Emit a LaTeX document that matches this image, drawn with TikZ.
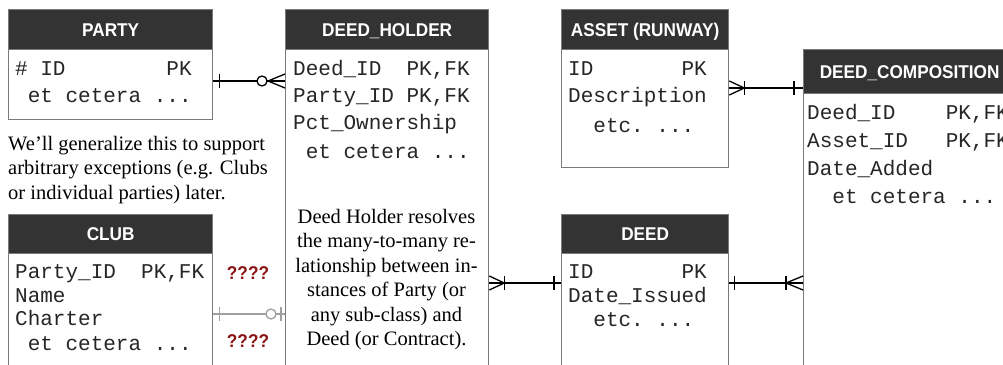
\documentclass[tikz,border=0pt]{standalone}
\usepackage{fontspec}
\setmainfont{Liberation Serif}
\setsansfont{Liberation Sans}
\setmonofont{Liberation Mono}
\newfontfamily\hdrfont[FakeStretch=0.93]{Liberation Sans}
\usetikzlibrary{calc}
\definecolor{hdrfill}{HTML}{333333}
\definecolor{boxline}{HTML}{7A7A7A}
\definecolor{qred}{HTML}{8B1414}
\definecolor{faint}{HTML}{A0A0A0}
\definecolor{monotext}{HTML}{262626}
\newcommand\csp[1]{\kern\dimexpr0.6em*#1\relax}
\begin{document}
\begin{tikzpicture}[x=1pt,y=-1pt,
  entity/.style={draw=boxline, fill=white, line width=1.3pt, anchor=north west, inner sep=0pt},
  hdr/.style={draw=boxline, fill=hdrfill, line width=1.3pt, anchor=north west, inner sep=0pt,
    text=white, font=\fontsize{18.5}{18.5}\hdrfont\bfseries, text height=13pt, text depth=0pt},
  row/.style={anchor=base west, inner sep=0pt, text=monotext, font=\fontsize{21}{21}\ttfamily},
  note/.style={inner sep=0pt, font=\fontsize{20.5}{24.5}\rmfamily},
  qq/.style={anchor=base, inner sep=0pt, text=qred, font=\fontsize{18.5}{18.5}\hdrfont\bfseries},
  rel/.style={line width=1.3pt, black},
  relg/.style={line width=1.3pt, faint}
]
\useasboundingbox (0,0) rectangle (1003,364);
\clip (0,0) rectangle (1003,364);

% ---------- PARTY ----------
\node[entity, minimum width=204pt, minimum height=110pt] (party) at (8,9) {};
\node[hdr, minimum width=204pt, minimum height=40pt] (partyH) at (8,9) {PARTY};
\node[row] (pr1) at (15,75) {\#\csp{1}ID\csp{8}PK};
\node[row] (pr2) at (15,102) {\csp{1}et cetera ...};

\node[note, anchor=north west, align=left] (pnote) at (8,136)
  {We’ll generalize this to support\\arbitrary exceptions (e.g. Clubs\\or individual parties) later.};

% ---------- CLUB ----------
\node[entity, minimum width=204pt, minimum height=170pt] (club) at (8,214) {};
\node[hdr, minimum width=204pt, minimum height=39pt] (clubH) at (8,214) {CLUB};
\node[row] (cr1) at (15,278) {Party\_ID\csp{2}PK,FK};
\node[row] (cr2) at (15,302) {Name};
\node[row] (cr3) at (15,325) {Charter};
\node[row] (cr4) at (15,350) {\csp{1}et cetera ...};

\node[qq] (q1) at (248,279) {????};
\node[qq] (q2) at (248,347) {????};

% ---------- DEED_HOLDER ----------
\node[entity, minimum width=203pt, minimum height=380pt] (dh) at (285,9) {};
\node[hdr, minimum width=203pt, minimum height=40pt] (dhH) at (285,9) {DEED\_HOLDER};
\node[row] (dr1) at (293,75) {Deed\_ID\csp{2}PK,FK};
\node[row] (dr2) at (293,102) {Party\_ID\csp{1}PK,FK};
\node[row] (dr3) at (293,129) {Pct\_Ownership};
\node[row] (dr4) at (293,158) {\csp{1}et cetera ...};

\node[note, anchor=north, align=center] (dnote) at (386.5,209)
  {Deed Holder resolves\\the many-to-many re-\\lationship between in-\\stances of Party (or\\any sub-class) and\\Deed (or Contract).};

% ---------- ASSET ----------
\node[entity, minimum width=167pt, minimum height=158pt] (asset) at (561,9) {};
\node[hdr, minimum width=167pt, minimum height=40pt] (assetH) at (561,9) {ASSET (RUNWAY)};
\node[row] (ar1) at (568,75) {ID\csp{7}PK};
\node[row] (ar2) at (568,102) {Description};
\node[row] (ar3) at (568,132) {\csp{2}etc. ...};

% ---------- DEED ----------
\node[entity, minimum width=167pt, minimum height=170pt] (deed) at (561,214) {};
\node[hdr, minimum width=167pt, minimum height=39pt] (deedH) at (561,214) {DEED};
\node[row] (er1) at (568,278) {ID\csp{7}PK};
\node[row] (er2) at (568,302) {Date\_Issued};
\node[row] (er3) at (568,326) {\csp{2}etc. ...};

% ---------- DEED_COMPOSITION ----------
\node[entity, minimum width=212pt, minimum height=330pt] (dc) at (803,49) {};
\node[hdr, minimum width=212pt, minimum height=44pt] (dcH) at (803,49) {DEED\_COMPOSITION};
\node[row] (cr1x) at (807,119) {Deed\_ID\csp{4}PK,FK};
\node[row] (cr2x) at (807,147) {Asset\_ID\csp{3}PK,FK};
\node[row] (cr3x) at (807,175) {Date\_Added};
\node[row] (cr4x) at (807,203) {\csp{2}et cetera ...};

% ---------- connectors ----------
\coordinate (yPD) at (0,81);
\coordinate (yCD) at (0,314);
\coordinate (yDD) at (0,283);
\coordinate (yAC) at (0,88);

% Party -- Deed_Holder : one and only one -- zero or many
\draw[rel] (party.east |- yPD) coordinate (a1) -- (dh.west |- yPD) coordinate (a2);
\draw[rel] ($(a1)+(6,-7)$) -- ++(0,14);
\draw[rel, fill=white] ($(a2)+(-23,0)$) circle (5pt);
\draw[rel] ($(a2)+(0,-7)$) -- ($(a2)+(-17,0)$) -- ($(a2)+(0,7)$);

% Club -- Deed_Holder (grey)
\draw[relg] (club.east |- yCD) coordinate (b1) -- (dh.west |- yCD) coordinate (b2);
\draw[relg] ($(b1)+(6,-7)$) -- ++(0,14);
\draw[relg, fill=white] ($(b2)+(-14,0)$) circle (5pt);
\draw[relg] ($(b2)+(-4,-7)$) -- ++(0,14);

% Deed_Holder -- Deed
\draw[rel] (dh.east |- yDD) coordinate (c1) -- (deed.west |- yDD) coordinate (c2);
\draw[rel] ($(c1)+(0,-7)$) -- ($(c1)+(15,0)$) -- ($(c1)+(0,7)$);
\draw[rel] ($(c1)+(15,-7)$) -- ++(0,14);
\draw[rel] ($(c2)+(-7,-7)$) -- ++(0,14);

% Asset -- Deed_Composition
\draw[rel] (asset.east |- yAC) coordinate (d1) -- (dc.west |- yAC) coordinate (d2);
\draw[rel] ($(d1)+(0,-7)$) -- ($(d1)+(15,0)$) -- ($(d1)+(0,7)$);
\draw[rel] ($(d1)+(15,-7)$) -- ++(0,14);
\draw[rel] ($(d2)+(-9,-7)$) -- ++(0,14);

% Deed -- Deed_Composition
\draw[rel] (deed.east |- yDD) coordinate (e1) -- (dc.west |- yDD) coordinate (e2);
\draw[rel] ($(e1)+(5,-7)$) -- ++(0,14);
\draw[rel] ($(e2)+(0,-7)$) -- ($(e2)+(-17,0)$) -- ($(e2)+(0,7)$);
\draw[rel] ($(e2)+(-17,-7)$) -- ++(0,14);
\end{tikzpicture}
\end{document}
